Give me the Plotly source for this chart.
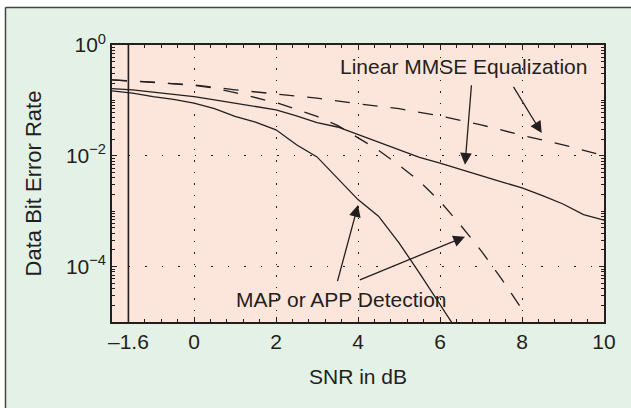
import plotly.graph_objects as go

# ---- data ----
mmse_dashed_snr = [-2, -1, 0, 1, 2, 3, 4, 5, 6, 7, 8, 9, 10]
mmse_dashed_ber = [0.234, 0.214, 0.191, 0.155, 0.132, 0.110, 0.0871, 0.0708,
                   0.0525, 0.0363, 0.0234, 0.0158, 0.0100]

map_dashed_snr = [-2, -1, 0, 0.5, 1, 1.5, 2, 2.5, 3, 3.5, 4, 4.5, 5, 5.5,
                  6, 6.5, 7, 7.5, 8]
map_dashed_ber = [0.234, 0.214, 0.186, 0.166, 0.138, 0.112, 0.0912, 0.0692,
                  0.0513, 0.0355, 0.0209, 0.0126, 0.00676, 0.00347, 0.00151,
                  5.62e-4, 1.95e-4, 6.03e-5, 1.70e-5]

mmse_solid_snr = [-2, -1.5, -1, -0.5, 0, 0.5, 1, 1.5, 2, 2.5, 3, 3.5, 4, 4.5,
                  5, 5.5, 6, 6.5, 7, 7.5, 8, 8.5, 9, 9.5, 10]
mmse_solid_ber = [0.1637, 0.1549, 0.1413, 0.1288, 0.1175, 0.1023, 0.0891,
                  0.0776, 0.0676, 0.0525, 0.0398, 0.0331, 0.0240, 0.0174,
                  0.0129, 0.00933, 0.00741, 0.00562, 0.00437, 0.00339,
                  0.00263, 0.00191, 0.00135, 8.71e-4, 6.92e-4]

map_solid_snr = [-2, -1.5, -1, -0.5, 0, 0.5, 1, 1.5, 2, 2.5, 3, 3.5, 4, 4.5,
                 5, 5.5, 6, 6.5]
map_solid_ber = [0.148, 0.135, 0.1175, 0.1047, 0.0891, 0.0708, 0.0513, 0.0407,
                 0.0295, 0.0158, 0.00955, 0.00398, 0.00162, 8.13e-4, 2.69e-4,
                 7.59e-5, 2.09e-5, 5.62e-6]

shannon_limit_db = -1.6
limit_ber_span = [1e-5, 1]

x_tick_vals = [-1.6, 0, 2, 4, 6, 8, 10]
x_tick_text = ["\u20131.6", "0", "2", "4", "6", "8", "10"]
y_tick_vals = [1, 1e-2, 1e-4]
y_tick_text = ["10<sup>0</sup>", "10<sup>\u22122</sup>", "10<sup>\u22124</sup>"]

# ---- style ----
INK = "#231F20"
GREEN = "#E3F1E6"
PINK = "#FCE5DB"
FONT = "Liberation Sans, Arial, Helvetica, sans-serif"
DASH = "15px,13px"

fig = go.Figure()
line_solid = dict(color=INK, width=1.3)
line_dash = dict(color=INK, width=1.3, dash=DASH)

fig.add_trace(go.Scatter(x=mmse_dashed_snr, y=mmse_dashed_ber, mode="lines", line=line_dash))
fig.add_trace(go.Scatter(x=map_dashed_snr, y=map_dashed_ber, mode="lines", line=line_dash))
fig.add_trace(go.Scatter(x=mmse_solid_snr, y=mmse_solid_ber, mode="lines", line=line_solid))
fig.add_trace(go.Scatter(x=map_solid_snr, y=map_solid_ber, mode="lines", line=line_solid))
fig.add_trace(go.Scatter(x=[shannon_limit_db, shannon_limit_db], y=limit_ber_span,
                         mode="lines", line=dict(color=INK, width=1.6)))

W, H = 631, 408
L, R, T, B = 112, 27, 45, 86
pw, ph = W - L - R, H - T - B


def px(xp):
    return (xp - L) / pw


def py(yp):
    return (H - B - yp) / ph


fig.update_layout(
    width=W, height=H,
    margin=dict(l=L, r=R, t=T, b=B),
    paper_bgcolor=GREEN, plot_bgcolor=PINK,
    showlegend=False,
    font=dict(family=FONT, size=21, color=INK),
    xaxis=dict(
        range=[-2, 10], tickmode="array", tickvals=x_tick_vals, ticktext=x_tick_text,
        ticks="inside", ticklen=5, tickcolor=INK, tickwidth=1,
        showline=True, linecolor=INK, linewidth=1.6, mirror="ticks",
        showgrid=True, gridcolor=INK, gridwidth=1, griddash="1.5px,10px",
        zeroline=False,
        minor=dict(ticks="inside", ticklen=3, tickcolor=INK, tick0=0, dtick=0.4, showgrid=False),
        title=dict(text="SNR in dB", standoff=17, font=dict(size=21)),
        tickfont=dict(size=21),
    ),
    yaxis=dict(
        type="log", range=[-5, 0], tickmode="array", tickvals=y_tick_vals, ticktext=y_tick_text,
        ticks="inside", ticklen=5, tickcolor=INK, tickwidth=1,
        showline=True, linecolor=INK, linewidth=1.6, mirror="ticks",
        showgrid=True, gridcolor=INK, gridwidth=1, griddash="1.5px,15px",
        zeroline=False,
        minor=dict(ticks="inside", ticklen=3, tickcolor=INK, dtick="D1", showgrid=False),
        title=dict(text="Data Bit Error Rate", standoff=18, font=dict(size=22)),
        tickfont=dict(size=21),
    ),
)

# outer frame (white margin strip + dark border on top and left)
frame = [
    dict(type="rect", xref="paper", yref="paper", x0=px(-10), x1=px(5), y0=py(500), y1=py(-10),
         fillcolor="white", line=dict(width=0)),
    dict(type="rect", xref="paper", yref="paper", x0=px(-10), x1=px(700), y0=py(7), y1=py(-10),
         fillcolor="white", line=dict(width=0)),
    dict(type="line", xref="paper", yref="paper", x0=px(5.5), x1=px(700), y0=py(7.5), y1=py(7.5),
         line=dict(color="#444444", width=1.5)),
    dict(type="line", xref="paper", yref="paper", x0=px(5.5), x1=px(5.5), y0=py(500), y1=py(7.5),
         line=dict(color="#444444", width=1.5)),
]
for s in frame:
    fig.add_shape(**s)

# annotations (y in log10 units on the log axis)
fig.add_annotation(x=6.57, y=-0.38, xref="x", yref="y", text="Linear MMSE Equalization",
                   showarrow=False, font=dict(size=21, color=INK))
fig.add_annotation(x=3.6, y=-4.59, xref="x", yref="y", text="MAP or APP Detection",
                   showarrow=False, font=dict(size=21, color=INK))

arrows = [
    (6.61, -2.16, 6.77, -0.70),
    (8.48, -1.59, 7.77, -0.73),
    (4.00, -2.89, 3.49, -4.29),
    (6.61, -3.46, 4.01, -4.25),
]
for hx, hy, tx, ty in arrows:
    fig.add_annotation(x=hx, y=hy, ax=tx, ay=ty, xref="x", yref="y", axref="x", ayref="y",
                       text="", showarrow=True, arrowhead=2, arrowsize=1.8, arrowwidth=1.3,
                       arrowcolor=INK, standoff=0, startstandoff=0)

fig.write_html(
    "out.html",
    config={"displayModeBar": False},
    post_script="document.body.style.margin='0';document.body.style.padding='0';"
                "document.documentElement.style.overflow='hidden';",
)
